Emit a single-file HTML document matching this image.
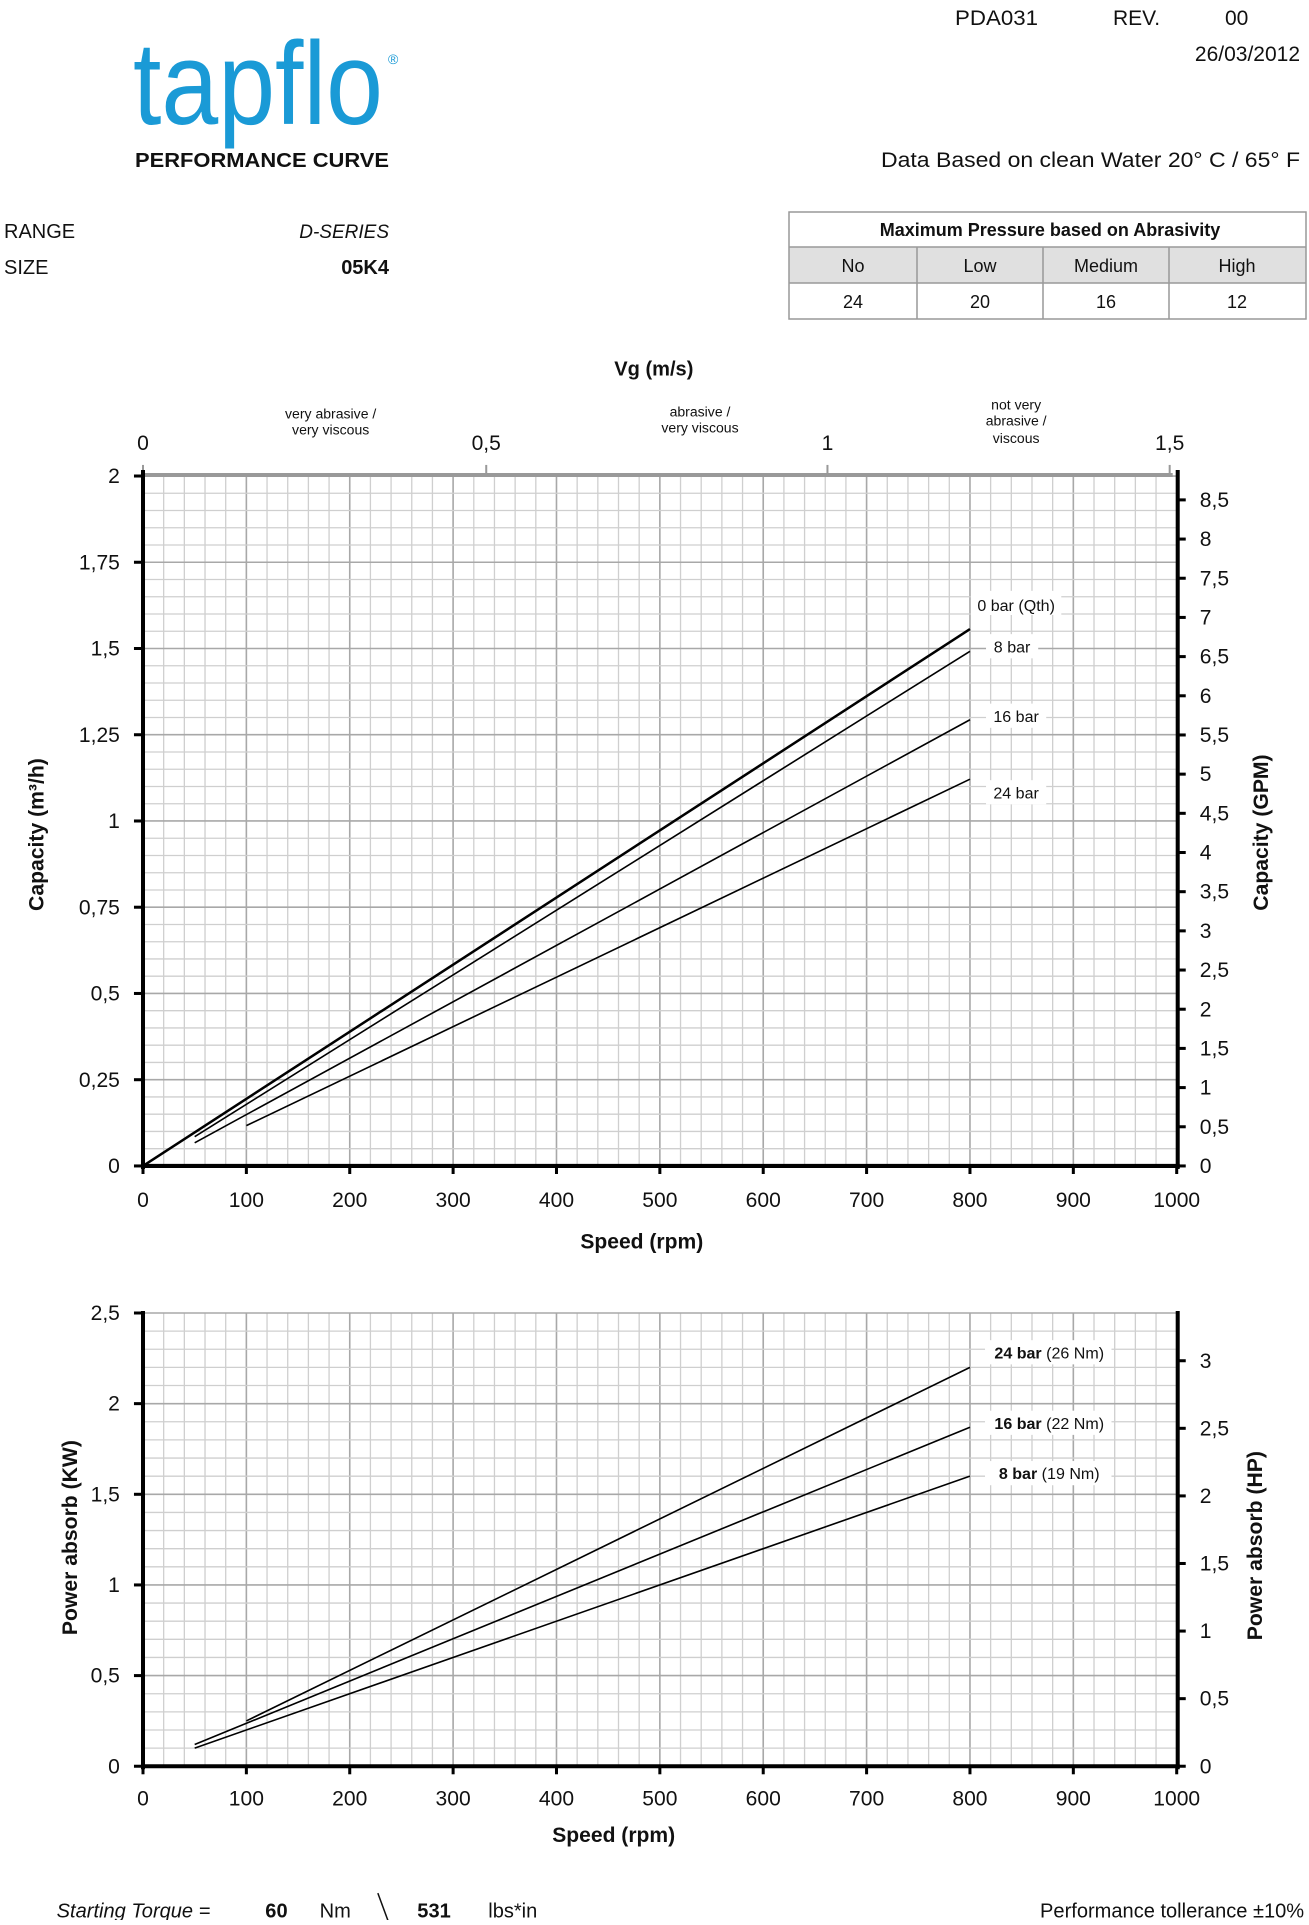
<!DOCTYPE html>
<html><head><meta charset="utf-8"><style>
body{margin:0;background:#fff;width:1309px;height:1920px;overflow:hidden}
svg text{font-family:"Liberation Sans",sans-serif;fill:#111}
</style></head><body>
<svg id="s" width="1309" height="1920" viewBox="0 0 1309 1920" xmlns="http://www.w3.org/2000/svg">
<text x="955" y="25" font-size="21" textLength="83" lengthAdjust="spacingAndGlyphs">PDA031</text>
<text x="1113" y="25" font-size="21">REV.</text>
<text x="1225" y="25" font-size="21">00</text>
<text x="1300" y="61" font-size="21" text-anchor="end">26/03/2012</text>
<text x="133" y="124" font-size="118" fill="#1a9ad6" style="fill:#1a9ad6" textLength="250" lengthAdjust="spacingAndGlyphs">tapflo</text>
<text x="388" y="64" font-size="14" style="fill:#1a9ad6">®</text>
<text x="135" y="167" font-size="20" font-weight="bold" textLength="254" lengthAdjust="spacingAndGlyphs">PERFORMANCE CURVE</text>
<text x="881" y="167" font-size="21" textLength="419" lengthAdjust="spacingAndGlyphs">Data Based on clean Water 20° C  /  65° F</text>
<text x="4" y="238" font-size="20">RANGE</text>
<text x="389" y="238" font-size="19" font-style="italic" text-anchor="end">D-SERIES</text>
<text x="4" y="274" font-size="20">SIZE</text>
<text x="389" y="274" font-size="20" font-weight="bold" text-anchor="end">05K4</text>
<rect x="789" y="247" width="517" height="36" fill="#e0e0e0"/>
<g stroke="#999" stroke-width="1.5" fill="none">
<rect x="789" y="212" width="517" height="107"/>
<line x1="789" y1="247" x2="1306" y2="247"/><line x1="789" y1="283" x2="1306" y2="283"/>
<line x1="917" y1="247" x2="917" y2="319"/><line x1="1043" y1="247" x2="1043" y2="319"/><line x1="1169" y1="247" x2="1169" y2="319"/>
</g>
<text x="1050" y="236" font-size="18" font-weight="bold" text-anchor="middle">Maximum Pressure based on Abrasivity</text>
<g font-size="18" text-anchor="middle">
<text x="853" y="272">No</text><text x="980" y="272">Low</text><text x="1106" y="272">Medium</text><text x="1237" y="272">High</text>
<text x="853" y="308">24</text><text x="980" y="308">20</text><text x="1106" y="308">16</text><text x="1237" y="308">12</text>
</g>
<g transform="translate(143,474) scale(1.0036,1.0072) translate(-143,-474)">
<text x="652" y="376" font-size="20" font-weight="bold" text-anchor="middle">Vg (m/s)</text>
<g font-size="14" text-anchor="middle">
<text x="330" y="419">very abrasive /</text><text x="330" y="435">very viscous</text>
<text x="698" y="417">abrasive /</text><text x="698" y="433">very viscous</text>
<text x="1013" y="410">not very</text><text x="1013" y="426">abrasive /</text><text x="1013" y="443">viscous</text>
</g>
<g font-size="21" text-anchor="middle">
<text x="143" y="450">0</text><text x="485" y="450">0,5</text><text x="825" y="450">1</text><text x="1166" y="450">1,5</text>
</g>
<g id="g1"></g><g id="g2"></g>
<text transform="translate(44,832) rotate(-90)" font-size="21" font-weight="bold" text-anchor="middle">Capacity (m³/h)</text>
<text transform="translate(1264,830) rotate(-90)" font-size="21" font-weight="bold" text-anchor="middle">Capacity (GPM)</text>
<text x="640" y="1243" font-size="21" font-weight="bold" text-anchor="middle">Speed (rpm)</text>
<text transform="translate(77,1530) rotate(-90)" font-size="21" font-weight="bold" text-anchor="middle">Power absorb (KW)</text>
<text transform="translate(1258,1538) rotate(-90)" font-size="21" font-weight="bold" text-anchor="middle">Power absorb (HP)</text>
<text x="612" y="1832" font-size="21" font-weight="bold" text-anchor="middle">Speed (rpm)</text>
<text x="57" y="1907" font-size="20" font-style="italic">Starting Torque =</text>
<text x="276" y="1907" font-size="20" font-weight="bold" text-anchor="middle">60</text>
<text x="319" y="1907" font-size="20">Nm</text>
<line x1="377" y1="1883" x2="387" y2="1910" stroke="#111" stroke-width="1.5"/>
<text x="433" y="1907" font-size="20" font-weight="bold" text-anchor="middle">531</text>
<text x="487" y="1907" font-size="20">lbs*in</text>
<text x="1300" y="1907" font-size="20" text-anchor="end">Performance tollerance ±10%</text>
</g>
</svg>
<script>
var NS="http://www.w3.org/2000/svg";
function el(p,t,a,txt){var e=document.createElementNS(NS,t);for(var k in a)e.setAttribute(k,a[k]);if(txt!==undefined)e.textContent=txt;p.appendChild(e);return e;}
var X=function(r){return 143+r*1.03;};
(function(){
var g=document.getElementById('g1');var B=1161,T=476,k=342.5;
for(var r=0;r<=1000;r+=20){el(g,'line',{x1:X(r),y1:T,x2:X(r),y2:B,stroke:r%100==0?'#a8a8a8':'#cfcfcf','stroke-width':r%100==0?1.6:1.3});}
for(var q=0;q<=40;q++){var y=B-q*0.05*k;el(g,'line',{x1:143,y1:y,x2:X(1000),y2:y,stroke:q%5==0?'#a8a8a8':'#cfcfcf','stroke-width':q%5==0?1.6:1.3});}
el(g,'line',{x1:143,y1:475,x2:1169,y2:475,stroke:'#999','stroke-width':4});
[143,485,825,1166].forEach(function(x){el(g,'line',{x1:x,y1:465,x2:x,y2:475,stroke:'#999','stroke-width':2});});
el(g,'line',{x1:143,y1:470,x2:143,y2:B+3,stroke:'#000','stroke-width':4});
el(g,'line',{x1:1174,y1:470,x2:1174,y2:B+3,stroke:'#000','stroke-width':4});
el(g,'line',{x1:141,y1:B,x2:1176,y2:B,stroke:'#000','stroke-width':4});
var lab=['0','0,25','0,5','0,75','1','1,25','1,5','1,75','2'];
for(var i=0;i<=8;i++){var y=B-i*0.25*k;el(g,'line',{x1:134,y1:y,x2:143,y2:y,stroke:'#000','stroke-width':3});el(g,'text',{x:120,y:y+7,'font-size':21,'text-anchor':'end'},lab[i]);}
for(var i=0;i<=17;i++){var gp=i*0.5;var y=B-gp*77.8;el(g,'line',{x1:1174,y1:y,x2:1182,y2:y,stroke:'#000','stroke-width':3});el(g,'text',{x:1196,y:y+7,'font-size':21},String(gp).replace('.',','));}
for(var r=0;r<=1000;r+=100){el(g,'line',{x1:X(r),y1:B,x2:X(r),y2:B+8,stroke:'#000','stroke-width':3});el(g,'text',{x:X(r),y:1202,'font-size':21,'text-anchor':'middle'},r);}
var L=[[50,1132,650,1.6],[50,1138,718,1.6],[100,1121,777,1.6]];
L.forEach(function(l){el(g,'line',{x1:X(l[0]),y1:l[1],x2:X(800),y2:l[2],stroke:'#000','stroke-width':l[3]});});
el(g,'line',{x1:143,y1:B,x2:X(800),y2:628,stroke:'#000','stroke-width':2.5});
[['0 bar (Qth)',968,590,90,610],['8 bar',983,633,52,651],['16 bar',983,702,60,720],['24 bar',983,778,60,796]].forEach(function(a){el(g,'rect',{x:a[1],y:a[2],width:a[3],height:24,fill:'#fff'});el(g,'text',{x:a[1]+a[3]/2,y:a[4],'font-size':16,'text-anchor':'middle'},a[0]);});
})();
(function(){
var g=document.getElementById('g2');var B=1757,T=1307,k=180;
for(var r=0;r<=1000;r+=20){el(g,'line',{x1:X(r),y1:T,x2:X(r),y2:B,stroke:r%100==0?'#a8a8a8':'#cfcfcf','stroke-width':r%100==0?1.6:1.3});}
for(var q=0;q<=25;q++){var y=B-q*0.1*k;el(g,'line',{x1:143,y1:y,x2:X(1000),y2:y,stroke:q%5==0?'#a8a8a8':'#cfcfcf','stroke-width':q%5==0?1.6:1.3});}
el(g,'line',{x1:143,y1:T-2,x2:143,y2:B+3,stroke:'#000','stroke-width':4});
el(g,'line',{x1:1174,y1:T-2,x2:1174,y2:B+3,stroke:'#000','stroke-width':4});
el(g,'line',{x1:141,y1:B,x2:1176,y2:B,stroke:'#000','stroke-width':4});
var lab=['0','0,5','1','1,5','2','2,5'];
for(var i=0;i<=5;i++){var y=B-i*0.5*k;el(g,'line',{x1:134,y1:y,x2:143,y2:y,stroke:'#000','stroke-width':3});el(g,'text',{x:120,y:y+7,'font-size':21,'text-anchor':'end'},lab[i]);}
for(var i=0;i<=6;i++){var hp=i*0.5;var y=B-hp*134.2;el(g,'line',{x1:1174,y1:y,x2:1182,y2:y,stroke:'#000','stroke-width':3});el(g,'text',{x:1196,y:y+7,'font-size':21},String(hp).replace('.',','));}
for(var r=0;r<=1000;r+=100){el(g,'line',{x1:X(r),y1:B,x2:X(r),y2:B+8,stroke:'#000','stroke-width':3});el(g,'text',{x:X(r),y:1796,'font-size':21,'text-anchor':'middle'},r);}
var Y=function(p){return B-p*k;};
[[50,0.1,1.6],[50,0.12,1.87],[100,0.25,2.2]].forEach(function(l){el(g,'line',{x1:X(l[0]),y1:Y(l[1]),x2:X(800),y2:Y(l[2]),stroke:'#000','stroke-width':1.6});});
[['24 bar','(26 Nm)',1334,1352],['16 bar','(22 Nm)',1404,1422],['8 bar','(19 Nm)',1454,1472]].forEach(function(a){el(g,'rect',{x:982,y:a[2],width:126,height:24,fill:'#fff'});var t=el(g,'text',{x:1046,y:a[3],'font-size':16,'text-anchor':'middle'});el(t,'tspan',{'font-weight':'bold'},a[0]+' ');el(t,'tspan',{},a[1]);});
})();
</script>
</body></html>
